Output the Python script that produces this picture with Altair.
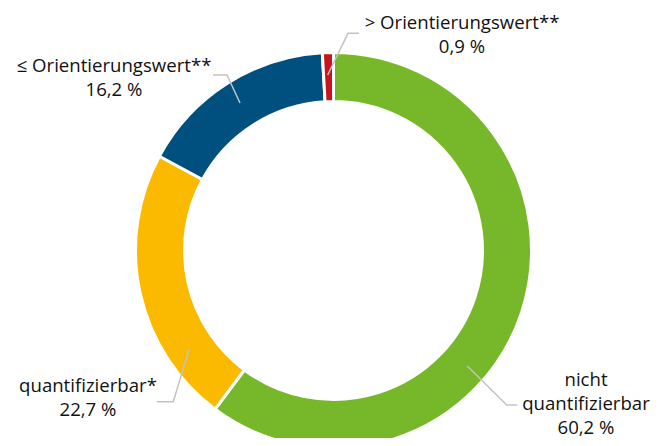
import altair as alt
import pandas as pd

# ---- data ----
categories = ["nicht quantifizierbar", "quantifizierbar*", "≤ Orientierungswert**", "> Orientierungswert**"]
values = [60.2, 22.7, 16.2, 0.9]
colors = ["#76b82a", "#fbba00", "#00507f", "#c8151d"]

# label text lines (category wording split as in the original)
label_lines = [
    ["nicht", "quantifizierbar"],
    ["quantifizierbar*"],
    ["≤ Orientierungswert**"],
    ["> Orientierungswert**"],
]

# ---- layout (chart pixel coordinates, origin = top-left of plot area) ----
W, H = 645, 430
CX, CY = 325.5, 242.5
R_OUT, R_IN = 198, 149
LINE_H = 24
label_anchor = [  # x centre, y of first line
    (578, 372),
    (80, 378),
    (106, 57.5),
    (454, 14.5),
]
leader_pts = [
    [(459.3, 358), (498.7, 397), (509.3, 397)],
    [(181, 341.3), (165.3, 393.7), (148.7, 393.7)],
    [(232, 95), (219, 67), (205, 67)],
    [(319.7, 67), (340, 25.3), (351, 25.3)],
]

def fmt(v):
    return f"{v:.1f}".replace(".", ",") + " %"

arc_df = pd.DataFrame({
    "cat": categories,
    "value": values,
    "idx": list(range(len(categories))),
})

txt_rows = []
for i, lines in enumerate(label_lines):
    ax, ay = label_anchor[i]
    all_lines = lines + [fmt(values[i])]
    for j, t in enumerate(all_lines):
        txt_rows.append({"t": t, "px": ax, "py": ay + j * LINE_H})
txt_df = pd.DataFrame(txt_rows)

line_rows = []
for i, pts in enumerate(leader_pts):
    for k, (px, py) in enumerate(pts):
        line_rows.append({"g": i, "k": k, "px": px, "py": py})
line_df = pd.DataFrame(line_rows)

xs = alt.Scale(domain=[0, W])
ys = alt.Scale(domain=[0, H], reverse=True)

arcs = alt.Chart(arc_df).mark_arc(
    radius=R_OUT, innerRadius=R_IN, stroke="white", strokeWidth=3
).encode(
    theta=alt.Theta("value:Q", stack=True),
    order=alt.Order("idx:Q"),
    color=alt.Color("cat:N", scale=alt.Scale(domain=categories, range=colors), legend=None),
    x=alt.value(CX),
    y=alt.value(CY),
)

leaders = alt.Chart(line_df).mark_line(color="#c3c3c3", strokeWidth=1.5).encode(
    x=alt.X("px:Q", scale=xs, axis=None),
    y=alt.Y("py:Q", scale=ys, axis=None),
    detail="g:N",
    order="k:Q",
)

texts = alt.Chart(txt_df).mark_text(
    font="Open Sans", fontSize=18.6, color="#111111", align="center", baseline="middle"
).encode(
    x=alt.X("px:Q", scale=xs, axis=None),
    y=alt.Y("py:Q", scale=ys, axis=None),
    text="t:N",
)

chart = alt.layer(arcs, leaders, texts).properties(
    width=W, height=H, padding=0, autosize=alt.AutoSizeParams(type="none")
).configure_view(stroke=None)

chart.save("out.html", embed_options={"renderer": "svg", "actions": False})
